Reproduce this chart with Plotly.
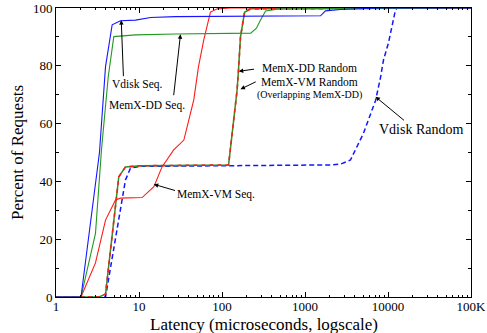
import plotly.graph_objects as go

# ---- data (latency in microseconds, percent of requests) ----
vdisk_seq_x = [1, 2.0, 3.34, 3.95, 4.75, 5.98, 9.08, 13.8, 27.5, 1538, 1766, 2680, 8100, 100000]
vdisk_seq_y = [0, 0, 50, 79.7, 94.2, 95.6, 95.8, 96.7, 97, 97.3, 99, 99.5, 100, 100]

memxdd_seq_x = [1, 2.0, 2.99, 3.53, 4.26, 4.97, 9.08, 27.5, 222, 260, 290, 335, 480, 14000, 100000]
memxdd_seq_y = [0, 0, 22, 50.9, 76.2, 90.1, 90.7, 91, 91.3, 93, 95.8, 99, 99.7, 100, 100]

memxvm_seq_x = [1, 2.0, 2.99, 3.95, 5.21, 5.98, 10.9, 15.1, 19.0, 26.2, 34.7, 39.8, 45.7, 52.1, 60.3, 72.6, 87.5, 126, 100000]
memxvm_seq_y = [0, 0, 11.8, 26.6, 33.6, 34.2, 34.4, 38.2, 45.1, 50.9, 54.3, 61.2, 68.2, 79.7, 89, 98.6, 99.7, 100, 100]

memx_rand_x = [1, 3.3, 3.95, 5.71, 6.87, 10.4, 120, 129, 139, 152, 158, 167, 187, 220, 100000]
memx_rand_y = [0, 0, 1, 41.6, 45, 45.4, 45.7, 54, 61, 71.6, 78.5, 90, 98.5, 99.7, 100]

vdisk_rand_x = [1, 3.95, 6.87, 7.9, 10.4, 2030, 2700, 3530, 5070, 7080, 8130, 8830, 10140, 12300, 12900, 100000]
vdisk_rand_y = [0, 0, 40.5, 44.6, 45.2, 45.7, 46, 47.4, 56.7, 68, 76, 82, 88, 99.3, 100, 100]

x_tickvals = [1, 10, 100, 1000, 10000, 100000]
x_ticktext = ["1", "10", "100", "1000", "10000", "100K"]
y_tickvals = [0, 20, 40, 60, 80, 100]

FONT = "Liberation Serif, Times New Roman, Times, serif"
BLUE = "#1515ff"
GREEN = "#229922"
RED = "#ff1a1a"

fig = go.Figure()
fig.add_trace(go.Scatter(x=vdisk_rand_x, y=vdisk_rand_y, mode="lines",
                         line=dict(color=BLUE, width=1.5, dash="5px,3px")))
fig.add_trace(go.Scatter(x=memx_rand_x, y=memx_rand_y, mode="lines",
                         line=dict(color=GREEN, width=1.5)))
fig.add_trace(go.Scatter(x=memx_rand_x, y=memx_rand_y, mode="lines",
                         line=dict(color=RED, width=1.6, dash="4px,4px")))
fig.add_trace(go.Scatter(x=memxvm_seq_x, y=memxvm_seq_y, mode="lines",
                         line=dict(color=RED, width=1.1)))
fig.add_trace(go.Scatter(x=memxdd_seq_x, y=memxdd_seq_y, mode="lines",
                         line=dict(color=GREEN, width=1.1)))
fig.add_trace(go.Scatter(x=vdisk_seq_x, y=vdisk_seq_y, mode="lines",
                         line=dict(color=BLUE, width=1.1)))

# labels: (text, x_log, y, size)
labels = [
    ("Vdisk Seq.", 0.976, 73.4, 11.5),
    ("MemX-DD Seq.", 1.094, 66.1, 11.5),
    ("MemX-DD Random", 3.051, 79.1, 11.5),
    ("MemX-VM Random", 3.058, 74.5, 11.5),
    ("(Overlapping MemX-DD)", 3.051, 69.9, 10),
    ("Vdisk Random", 4.407, 57.8, 14),
    ("MemX-VM Seq.", 1.931, 35.5, 11.5),
]
for t, lx, ly, s in labels:
    fig.add_annotation(x=lx, y=ly, text=t, showarrow=False,
                       font=dict(family=FONT, size=s, color="black"))

# arrows: (tail_x_log, tail_y, tip_x_log, tip_y)
arrows = [
    (0.813, 75.9, 0.786, 95.8),
    (1.416, 69.3, 1.5, 90.9),
    (2.404, 78.9, 2.202, 78.1),
    (2.424, 74.7, 2.223, 71.9),
    (4.211, 60.7, 3.849, 69.3),
    (1.452, 36.7, 1.178, 39.0),
]
for ax_, ay_, x_, y_ in arrows:
    fig.add_annotation(x=x_, y=y_, ax=ax_, ay=ay_, axref="x", ayref="y",
                       text="", showarrow=True, arrowhead=2, arrowsize=0.9,
                       arrowwidth=1, arrowcolor="black")

# axis titles as paper annotations
fig.add_annotation(xref="paper", yref="paper", x=0.5, y=-0.095,
                   text="Latency (microseconds, logscale)", showarrow=False,
                   xanchor="center", yanchor="middle",
                   font=dict(family=FONT, size=17, color="black"))
fig.add_annotation(xref="paper", yref="paper", x=-0.093, y=0.5,
                   text="Percent of Requests", showarrow=False, textangle=-90,
                   xanchor="center", yanchor="middle",
                   font=dict(family=FONT, size=17, color="black"))

fig.update_layout(
    width=487, height=333,
    margin=dict(l=56, r=16, t=8, b=36, autoexpand=False),
    plot_bgcolor="white", paper_bgcolor="white",
    showlegend=False,
    font=dict(family=FONT, color="black", size=13),
)
fig.update_xaxes(
    type="log", range=[0, 5], automargin=False,
    tickvals=x_tickvals, ticktext=x_ticktext,
    ticks="inside", ticklen=5, tickcolor="black", ticklabelstandoff=-3,
    showline=True, linecolor="black", linewidth=1, mirror="ticks",
    showgrid=False, zeroline=False,
    minor=dict(ticks="inside", ticklen=2, tickcolor="black", dtick="D1", showgrid=False),
    tickfont=dict(family=FONT, size=13),
)
fig.update_yaxes(
    range=[0, 100], automargin=False,
    tickvals=y_tickvals,
    ticks="inside", ticklen=5, tickcolor="black",
    showline=True, linecolor="black", linewidth=1, mirror="ticks",
    showgrid=False, zeroline=False,
    minor=dict(ticks="inside", ticklen=3, tickcolor="black", dtick=10, showgrid=False),
    tickfont=dict(family=FONT, size=13),
)

fig.write_html("out.html", config={"displayModeBar": False},
               post_script="document.body.style.margin='0';document.body.style.padding='0';")
